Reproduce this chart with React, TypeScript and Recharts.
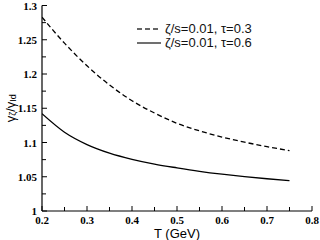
import React from 'react';
import { LineChart, Line, XAxis, YAxis } from 'recharts';

const temperatures = [0.2, 0.25, 0.3, 0.35, 0.4, 0.45, 0.5, 0.55, 0.6, 0.65, 0.7, 0.75];
const tau03Values = [1.283, 1.245, 1.212, 1.184, 1.161, 1.143, 1.128, 1.117, 1.108, 1.1005, 1.094, 1.088];
const tau06Values = [1.142, 1.115, 1.097, 1.0845, 1.0755, 1.0685, 1.063, 1.058, 1.0538, 1.0502, 1.0471, 1.0443];

const xTicks = [0.2, 0.25, 0.3, 0.35, 0.4, 0.45, 0.5, 0.55, 0.6, 0.65, 0.7, 0.75, 0.8];
const xTickLabels = ['0.2', '', '0.3', '', '0.4', '', '0.5', '', '0.6', '', '0.7', '', '0.8'];
const yTicks = [1, 1.025, 1.05, 1.075, 1.1, 1.125, 1.15, 1.175, 1.2, 1.225, 1.25, 1.275, 1.3];
const yTickLabels = ['1', '', '1.05', '', '1.1', '', '1.15', '', '1.2', '', '1.25', '', '1.3'];

const seriesNames = ['\u03b6/s=0.01, \u03c4=0.3', '\u03b6/s=0.01, \u03c4=0.6'];

const data = temperatures.map((T, i) => ({ T, a: tau03Values[i], b: tau06Values[i] }));

const findLabel = (ticks: number[], labels: string[], v: number) => {
  const i = ticks.findIndex((t) => Math.abs(t - v) < 1e-6);
  return i >= 0 ? labels[i] : '';
};

const tickFont = { fontFamily: '"Liberation Serif", "Times New Roman", serif', fontWeight: 700, fontSize: 11, fill: '#000' };

const BottomTick = (props: any) => {
  const { x, y, payload } = props;
  const label = findLabel(xTicks, xTickLabels, payload.value);
  const len = label ? 5 : 4;
  return (
    <g>
      <line x1={x} y1={y} x2={x} y2={y - len} stroke="#000" strokeWidth={1} />
      {label && (
        <text x={x} y={y + 12.5} textAnchor="middle" {...tickFont}>
          {label}
        </text>
      )}
    </g>
  );
};

const TopTick = (props: any) => {
  const { x, y, payload } = props;
  const label = findLabel(xTicks, xTickLabels, payload.value);
  const len = label ? 5 : 4;
  return <line x1={x} y1={y} x2={x} y2={y + len} stroke="#000" strokeWidth={1} />;
};

const LeftTick = (props: any) => {
  const { x, y, payload } = props;
  const label = findLabel(yTicks, yTickLabels, payload.value);
  const len = label ? 5 : 4;
  return (
    <g>
      <line x1={x} y1={y} x2={x + len} y2={y} stroke="#000" strokeWidth={1} />
      {label && (
        <text x={x - 5} y={y} textAnchor="end" dominantBaseline="central" {...tickFont}>
          {label}
        </text>
      )}
    </g>
  );
};

const RightTick = (props: any) => {
  const { x, y, payload } = props;
  const label = findLabel(yTicks, yTickLabels, payload.value);
  const len = label ? 5 : 4;
  return <line x1={x} y1={y} x2={x - len} y2={y} stroke="#000" strokeWidth={1} />;
};

const YLabel = (props: any) => {
  const vb = props.viewBox || { x: 0, y: 0, width: 0, height: 0 };
  const cy = vb.y + vb.height / 2;
  const cx = 10;
  return (
    <text
      x={cx}
      y={cy}
      transform={`rotate(-90 ${cx} ${cy})`}
      textAnchor="middle"
      dominantBaseline="central"
      fontFamily='"Liberation Sans", Arial, sans-serif'
      fontSize={13}
      fill="#000"
    >
      <tspan>γ</tspan>
      <tspan dy={3} fontSize={9}>ζ</tspan>
      <tspan dy={-3}>/γ</tspan>
      <tspan dy={3} fontSize={9}>Id</tspan>
    </text>
  );
};

const XLabel = (props: any) => {
  const vb = props.viewBox || { x: 0, y: 0, width: 0, height: 0 };
  return (
    <text
      x={vb.x + vb.width / 2}
      y={238}
      textAnchor="middle"
      fontFamily='"Liberation Sans", Arial, sans-serif'
      fontSize={13}
      fill="#000"
    >
      T (GeV)
    </text>
  );
};

const LegendBox = () => (
  <div
    style={{
      position: 'absolute',
      left: 137,
      top: 22,
      fontFamily: '"Liberation Sans", Arial, sans-serif',
      fontSize: 13,
      color: '#111',
      lineHeight: '14px',
    }}
  >
    {seriesNames.map((name, i) => (
      <div key={name} style={{ display: 'flex', alignItems: 'center', height: 14 }}>
        <svg width={26} height={14} style={{ display: 'block' }}>
          <line
            x1={0}
            y1={7}
            x2={24}
            y2={7}
            stroke="#333"
            strokeWidth={1.4}
            strokeDasharray={i === 0 ? '5 3' : undefined}
          />
        </svg>
        <span style={{ marginLeft: 2, whiteSpace: 'nowrap' }}>{name}</span>
      </div>
    ))}
  </div>
);

export default function App() {
  return (
    <div style={{ position: 'absolute', left: 0, top: 0, width: 320, height: 240, background: '#fff' }}>
      <LineChart width={320} height={240} data={data} margin={{ top: 5.5, right: 8, bottom: 0, left: 0 }}>
        <XAxis
          xAxisId="bottom"
          dataKey="T"
          type="number"
          domain={[0.2, 0.8]}
          ticks={xTicks}
          allowDataOverflow
          height={29}
          tickSize={0}
          tickMargin={0}
          tickLine={false}
          axisLine={{ stroke: '#000', strokeWidth: 1.2 }}
          tick={<BottomTick />}
          interval={0}
          label={<XLabel />}
        />
        <XAxis
          xAxisId="top"
          orientation="top"
          dataKey="T"
          type="number"
          domain={[0.2, 0.8]}
          ticks={xTicks}
          allowDataOverflow
          height={0}
          tickSize={0}
          tickMargin={0}
          tickLine={false}
          axisLine={{ stroke: '#000', strokeWidth: 1.2 }}
          tick={<TopTick />}
          interval={0}
        />
        <YAxis
          yAxisId="left"
          type="number"
          domain={[1, 1.3]}
          ticks={yTicks}
          allowDataOverflow
          width={42}
          tickSize={0}
          tickMargin={0}
          tickLine={false}
          axisLine={{ stroke: '#000', strokeWidth: 1.2 }}
          tick={<LeftTick />}
          interval={0}
          label={<YLabel />}
        />
        <YAxis
          yAxisId="right"
          orientation="right"
          type="number"
          domain={[1, 1.3]}
          ticks={yTicks}
          allowDataOverflow
          width={0}
          tickSize={0}
          tickMargin={0}
          tickLine={false}
          axisLine={{ stroke: '#000', strokeWidth: 1.2 }}
          tick={<RightTick />}
          interval={0}
        />
        <Line
          xAxisId="bottom"
          yAxisId="left"
          type="monotone"
          dataKey="a"
          stroke="#000"
          strokeWidth={1.3}
          strokeDasharray="5 3"
          dot={false}
          isAnimationActive={false}
        />
        <Line
          xAxisId="bottom"
          yAxisId="left"
          type="monotone"
          dataKey="b"
          stroke="#000"
          strokeWidth={1.3}
          dot={false}
          isAnimationActive={false}
        />
      </LineChart>
      <LegendBox />
    </div>
  );
}
